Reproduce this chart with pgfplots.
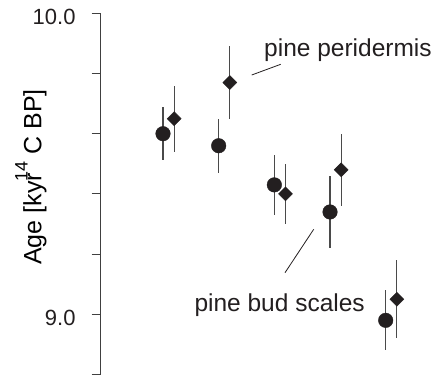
\documentclass[border=0pt]{standalone}
\usepackage{fontspec}
\setmainfont{Liberation Sans}
\usepackage{pgfplots}
\pgfplotsset{compat=1.18}
\definecolor{ink}{HTML}{231F20}
\definecolor{bar}{HTML}{4A4A4A}
\begin{document}
\begin{tikzpicture}[x=1pt,y=1pt]
\path (0,0) rectangle (433,376);
\begin{axis}[
  at={(100.7pt,1.5pt)}, anchor=south west,
  scale only axis, width=332.3pt, height=361.2pt,
  xmin=-0.119, xmax=5.850, ymin=8.8, ymax=10.0,
  axis y line*=left, axis x line=none,
  axis line style={black!75, line width=1pt},
  ytick={9.0,10.0}, yticklabels={9.0,10.0},
  minor ytick={8.8,9.2,9.4,9.6,9.8},
  tick align=outside, major tick length=9pt, minor tick length=9pt,
  tick style={black!75, line width=1pt},
  yticklabel style={font=\fontsize{22}{24}\selectfont, text=ink, inner sep=0pt, xshift=-16pt, yshift=-3.5pt},
  every axis y label/.style={at={(rel axis cs:-0.2097,0.547)}, rotate=90, anchor=center},
  ylabel={\fontsize{25}{28}\selectfont Age [ky\rlap{r}\raisebox{0.55em}{\fontsize{18}{20}\selectfont 14} C BP]},
  clip=false,
]
% pine bud scales (circles)
\addplot+[only marks, mark=*, mark size=7.3pt,
  mark options={fill=ink, draw=ink},
  error bars/.cd, y dir=both, y explicit, error mark=none,
  error bar style={bar, line width=1.1pt}]
  table[x=x, y=y, y error=e] {
x   y     e
1   9.60  0.088
2   9.56  0.090
3   9.43  0.100
4   9.34  0.120
5   8.98  0.100
};
% pine peridermis (diamonds)
\addplot+[only marks, mark=square*, mark size=4.95pt,
  mark options={fill=ink, draw=ink, rotate=45},
  error bars/.cd, y dir=both, y explicit, error mark=none,
  error bar style={bar, line width=1.1pt}]
  table[x=x, y=y, y error=e] {
x    y     e
1.2  9.65  0.110
2.2  9.77  0.120
3.2  9.40  0.100
4.2  9.48  0.120
5.2  9.05  0.130
};
\end{axis}
\draw[ink, line width=0.8pt] (251.7,301) -- (280.7,311.7);
\draw[ink, line width=0.8pt] (285,103.3) -- (313.7,146.7);
\node[anchor=base west, inner sep=0pt, text=ink, font=\fontsize{24.5}{27}\selectfont] at (264,320) {pine peridermis};
\node[anchor=base west, inner sep=0pt, text=ink, font=\fontsize{24.5}{27}\selectfont] at (194.3,64.3) {pine bud scales};
\end{tikzpicture}
\end{document}
